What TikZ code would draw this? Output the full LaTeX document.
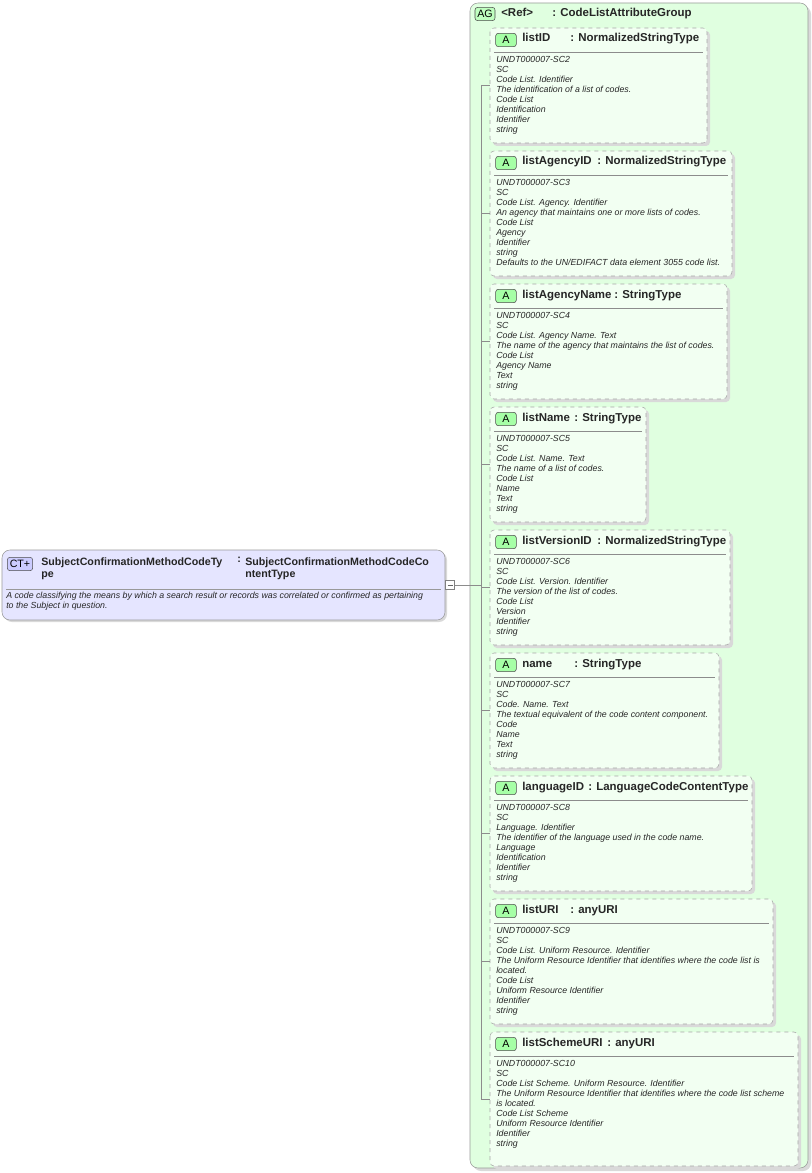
\documentclass[tikz,border=0pt]{standalone}
\usepackage{fontspec}
\setmainfont{Liberation Sans}
\begin{document}
\begin{tikzpicture}[x=0.75pt,y=-0.75pt,
  attrbox/.style={draw=black!35,dashed,fill=green!5,rounded corners=3pt,anchor=north west,inner sep=0pt},
  shad/.style={fill=black!15,rounded corners=3pt,draw=none},
  badge/.style={draw=black!70,fill=green!35,rounded corners=2pt,font=\fontsize{8}{9}\selectfont,minimum width=15.5pt,minimum height=10pt,inner sep=0pt},
  head/.style={font=\bfseries\fontsize{8.6}{9.6}\selectfont,anchor=base west,inner sep=0pt,text=black!85},
  cthead/.style={font=\bfseries\fontsize{8}{9.6}\selectfont,anchor=north west,align=left,inner sep=0pt,text=black!85},
  body/.style={font=\itshape\fontsize{6.6}{7.5}\selectfont,anchor=north west,align=left,inner sep=0pt,text=black!85},
  conn/.style={draw=black!45,line width=0.5pt}]
\useasboundingbox (0,0) rectangle (812,1173);
% AG group
\fill[black!15,rounded corners=6pt] (473,6) rectangle (811,1171);
\draw[black!40,fill=green!12,rounded corners=6pt] (470,3) rectangle (808,1168);
\node[badge,fill=green!25,minimum width=15pt] (agb) at (485,14) {AG};
\node[head] (agt) at (501,17) {<Ref>};
\node[head] (agty) at (552,17) {: CodeListAttributeGroup};
% CT box
\fill[black!15,rounded corners=6pt] (4,552) rectangle (447,622);
\draw[black!40,fill=blue!10,rounded corners=6pt] (2,550) rectangle (445,620);
\node[badge,fill=blue!20,minimum width=19pt] (ctb) at (20,564) {CT+};
\node[cthead] (ctn) at (41,557) {SubjectConfirmationMethodCodeTy\\pe};
\node[cthead] (ctc) at (237,557) {:};
\node[cthead] (ctt) at (245,557) {SubjectConfirmationMethodCodeCo\\ntentType};
\draw[black!40] (6,589) -- (441,589);
\node[body] (ctd) at (6,592) {A code classifying the means by which a search result or records was correlated or confirmed as pertaining\\to the Subject in question.};
\node[draw=black!50,fill=white,minimum size=6.5pt,inner sep=0pt] (minus) at (450,585) {};
\draw[black!60] (447.5,585) -- (452.5,585);
\coordinate (vtop) at (481,85);
\coordinate (vbot) at (481,1099);
\coordinate (vmid) at (481,585);
\draw[conn] (minus.east) -- (vmid);
\draw[conn] (vtop) -- (vbot);
\newcommand{\attr}[9]{%
  \fill[shad] (493,#2+3) rectangle (#4+3,#3+3);
  \draw[attrbox] (490,#2) rectangle (#4,#3);
  \coordinate (#1w) at (490,{(#2+#3)/2});
  \coordinate (#1c) at (481,{(#2+#3)/2});
  \draw[conn] (#1c) -- (#1w);
  \node[badge] (#1b) at (506,#2+12) {A};
  \node[head] (#1n) at (522,#2+14) {#5};
  \node[head] (#1t) at (#6,#2+14) {: #7};
  \draw[black!45] (494,#2+24) -- (#4-4,#2+24);
  \node[body] (#1d) at (496,#2+28) {#8};
}
\attr{a1}{28}{143}{707}{listID}{570}{NormalizedStringType}{UNDT000007-SC2\\SC\\Code List. Identifier\\The identification of a list of codes.\\Code List\\Identification\\Identifier\\string}{}
\attr{a2}{151}{276}{732}{listAgencyID}{597}{NormalizedStringType}{UNDT000007-SC3\\SC\\Code List. Agency. Identifier\\An agency that maintains one or more lists of codes.\\Code List\\Agency\\Identifier\\string\\Defaults to the UN/EDIFACT data element 3055 code list.}{}
\attr{a3}{284}{399}{727}{listAgencyName}{614}{StringType}{UNDT000007-SC4\\SC\\Code List. Agency Name. Text\\The name of the agency that maintains the list of codes.\\Code List\\Agency Name\\Text\\string}{}
\attr{a4}{407}{522}{646}{listName}{574}{StringType}{UNDT000007-SC5\\SC\\Code List. Name. Text\\The name of a list of codes.\\Code List\\Name\\Text\\string}{}
\attr{a5}{530}{645}{730}{listVersionID}{597}{NormalizedStringType}{UNDT000007-SC6\\SC\\Code List. Version. Identifier\\The version of the list of codes.\\Code List\\Version\\Identifier\\string}{}
\attr{a6}{653}{768}{719}{name}{574}{StringType}{UNDT000007-SC7\\SC\\Code. Name. Text\\The textual equivalent of the code content component.\\Code\\Name\\Text\\string}{}
\attr{a7}{776}{891}{752}{languageID}{588}{LanguageCodeContentType}{UNDT000007-SC8\\SC\\Language. Identifier\\The identifier of the language used in the code name.\\Language\\Identification\\Identifier\\string}{}
\attr{a8}{899}{1024}{773}{listURI}{570}{anyURI}{UNDT000007-SC9\\SC\\Code List. Uniform Resource. Identifier\\The Uniform Resource Identifier that identifies where the code list is\\located.\\Code List\\Uniform Resource Identifier\\Identifier\\string}{}
\attr{a9}{1032}{1166}{798}{listSchemeURI}{607}{anyURI}{UNDT000007-SC10\\SC\\Code List Scheme. Uniform Resource. Identifier\\The Uniform Resource Identifier that identifies where the code list scheme\\is located.\\Code List Scheme\\Uniform Resource Identifier\\Identifier\\string}{}
\end{tikzpicture}
\end{document}
